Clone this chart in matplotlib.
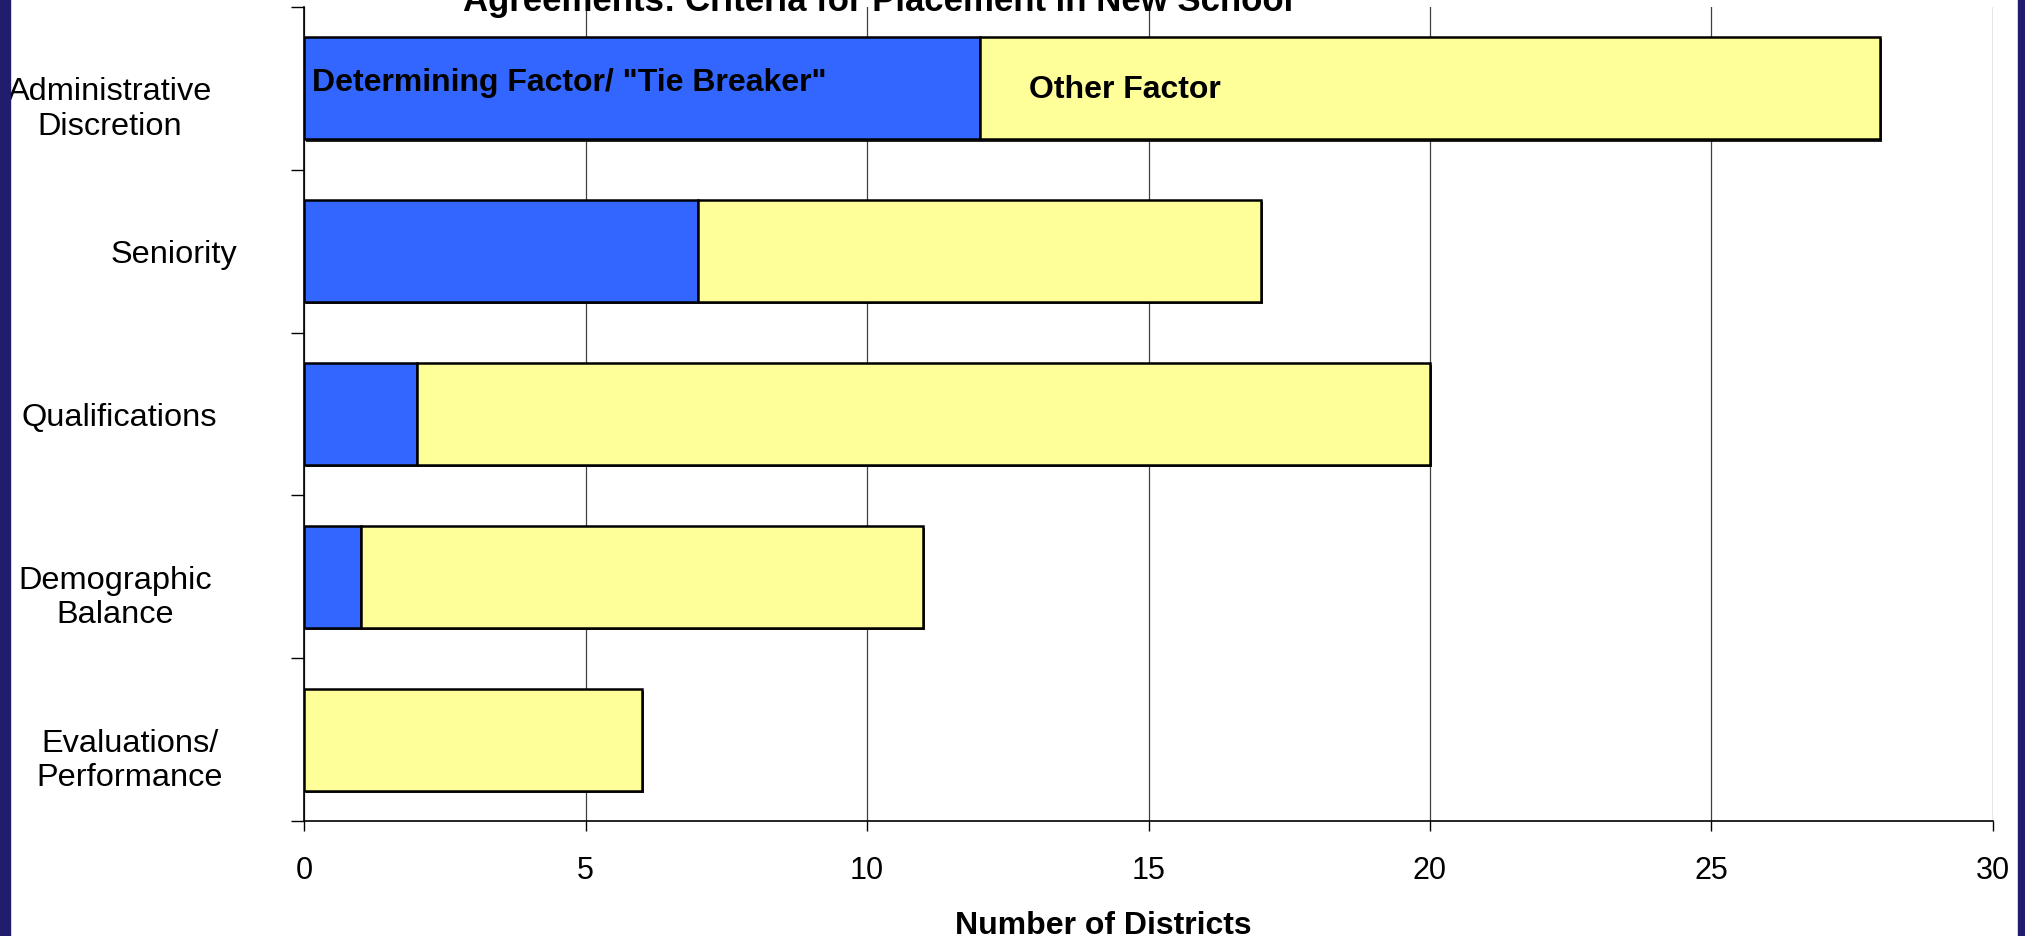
import numpy as np
import matplotlib
matplotlib.use("Agg")
import matplotlib.pyplot as plt
import matplotlib.patheffects as pe
from matplotlib.patches import Rectangle
from matplotlib.transforms import ScaledTranslation

plt.rcParams['font.family'] = ['Liberation Sans', 'DejaVu Sans']

# ── données ───────────────────────────────────────────────────────────────────
categories = ["Administrative\nDiscretion", "Seniority", "Qualifications",
              "Demographic\nBalance", "Evaluations/\nPerformance"]
determining = [12, 7, 2, 1, 0]     # "Tie Breaker"
other = [16, 10, 18, 10, 6]        # autre facteur (empilé après)
x_ticks = [0, 5, 10, 15, 20, 25, 30]

title = "Agreements: Criteria for Placement in New School"
xlabel = "Number of Districts"
lbl_det = 'Determining Factor/ "Tie Breaker"'
lbl_other = "Other Factor"

blue = "#3366FF"
yellow = "#FFFF99"
navy = "#211C6B"

# centre horizontal (px) de chaque étiquette y, comme dans l'original
label_centers = [110, 174, 119, 115, 130]

# ── figure ────────────────────────────────────────────────────────────────────
fig = plt.figure(figsize=(20.25, 9.37), dpi=100)
ax = fig.add_axes([304.3 / 2025, 1 - 822 / 937, 1688.4 / 2025, 814 / 937])

y = np.arange(len(categories))
shadow = [pe.SimplePatchShadow(offset=(1.5, -1.5), shadow_rgbFace="black", alpha=0.85), pe.Normal()]

b1 = ax.barh(y, determining, height=0.627, color=blue, edgecolor="black", linewidth=1.8, zorder=3)
b2 = ax.barh(y, other, left=determining, height=0.627, color=yellow, edgecolor="black",
             linewidth=1.8, zorder=3)
for p in list(b1) + list(b2):
    p.set_path_effects(shadow)

ax.set_xlim(0, 30)
ax.set_ylim(len(categories) - 0.5, -0.5)

# textes dans la première barre
ax.text(0.13, -0.06, lbl_det, fontsize=23, fontweight="bold", va="center_baseline", ha="left", zorder=4)
ax.text(12.87, -0.02, lbl_other, fontsize=23, fontweight="bold", va="center_baseline", ha="left", zorder=4)

# axes / ticks
ax.set_xticks(x_ticks)
ax.tick_params(axis="x", direction="out", length=7.2, width=1, pad=17, labelsize=22)
ax.set_yticks(np.arange(len(categories) + 1) - 0.5, [""] * (len(categories) + 1))
ax.tick_params(axis="y", which="major", direction="out", length=9.4, width=1)
ax.set_yticks(y, categories, minor=True)
ax.tick_params(axis="y", which="minor", length=0, pad=0, labelsize=23.4)
for lab, cx in zip(ax.get_yticklabels(minor=True), label_centers):
    lab.set_ha("center")
    lab.set_va("top")
    lab.set_multialignment("center")
    lab.set_linespacing(1.2)
    # première ligne centrée sur la graduation
    lab.set_transform(lab.get_transform() + ScaledTranslation((cx - 304.3) / 100, 12 / 100, fig.dpi_scale_trans))

ax.grid(axis="x", color="#404040", linewidth=0.9)
ax.set_axisbelow(True)
for s in ["top", "right"]:
    ax.spines[s].set_visible(False)
ax.spines["left"].set_linewidth(1.2)
ax.spines["bottom"].set_linewidth(1.2)

ax.set_xlabel(xlabel, fontsize=23, fontweight="bold")
ax.xaxis.set_label_coords(0.4734, -0.109)

fig.text(878 / 2025, 1 - 11 / 937, title, ha="center", va="baseline", fontsize=25, fontweight="bold")

# bordures bleu marine
fig.add_artist(Rectangle((0, 0), 10 / 2025, 1, transform=fig.transFigure, color=navy, zorder=10))
fig.add_artist(Rectangle((2018 / 2025, 0), 7 / 2025, 1, transform=fig.transFigure, color=navy, zorder=10))

fig.savefig("out.png", dpi=100)
